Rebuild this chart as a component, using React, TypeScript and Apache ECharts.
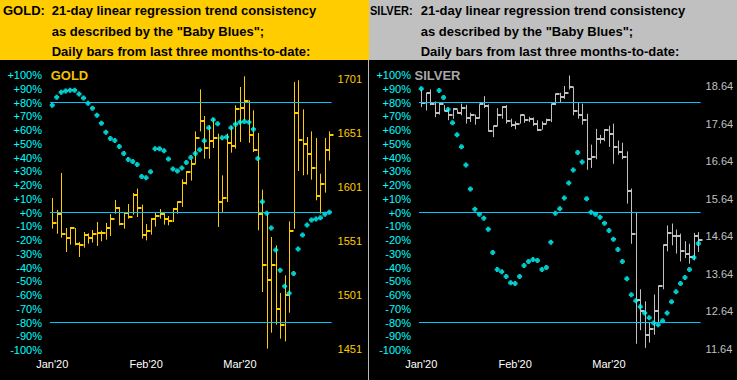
import React, { useEffect, useRef } from 'react';
import * as echarts from 'echarts';

// ---------- data ----------
const monthLabels = ["Jan'20", "Feb'20", "Mar'20"];
const monthLabelIndex = [0, 21, 42];
const goldPriceTicks = [1451, 1501, 1551, 1601, 1651, 1701];
const silverPriceTicks = [11.64, 12.64, 13.64, 14.64, 15.64, 16.64, 17.64, 18.64];
const bandLevels = [80, 0, -80];

const goldHigh = [
  1590.8, 1579.7, 1614.0, 1563.0, 1564.0, 1563.0, 1550.1, 1559.3, 1558.1, 1561.2,
  1568.6, 1560.6, 1567.7, 1576.0, 1589.0, 1582.5, 1577.9, 1585.3, 1595.4, 1599.5,
  1584.6, 1566.7, 1572.3, 1577.9, 1580.6, 1577.9, 1574.1, 1581.6, 1587.7, 1608.1,
  1615.8, 1626.6, 1652.5, 1691.4, 1666.7, 1658.1, 1664.3, 1650.4, 1611.8, 1650.4,
  1656.6, 1676.6, 1693.6, 1703.5, 1681.2, 1672.0, 1651.0, 1598.5, 1576.3, 1554.7,
  1547.0, 1502.9, 1519.2, 1569.2, 1698.2, 1699.8, 1672.9, 1647.3, 1652.5, 1646.4,
  1613.3, 1646.4, 1652.5,
];
const goldLow = [
  1562.4, 1557.8, 1554.1, 1540.8, 1547.6, 1547.0, 1536.2, 1544.8, 1548.5, 1549.5,
  1546.4, 1550.7, 1552.2, 1555.6, 1576.3, 1565.5, 1562.4, 1571.7, 1575.4, 1573.2,
  1553.2, 1551.6, 1556.9, 1564.3, 1571.7, 1566.1, 1565.5, 1568.6, 1576.3, 1582.5,
  1603.2, 1606.9, 1622.6, 1652.5, 1627.2, 1627.2, 1637.1, 1564.0, 1577.9, 1587.1,
  1632.8, 1636.5, 1642.7, 1662.7, 1642.0, 1633.4, 1560.9, 1503.8, 1451.3, 1466.1,
  1473.5, 1460.6, 1458.1, 1484.6, 1562.4, 1615.8, 1611.8, 1612.4, 1607.8, 1588.7,
  1576.3, 1595.8, 1625.4,
];
const goldClose = [
  1568.0, 1576.3, 1557.8, 1554.1, 1563.3, 1548.5, 1547.3, 1556.6, 1553.5, 1557.8,
  1558.7, 1558.7, 1562.7, 1571.7, 1581.9, 1567.0, 1576.9, 1573.2, 1593.9, 1581.9,
  1556.9, 1560.3, 1571.1, 1574.1, 1576.3, 1571.7, 1569.8, 1580.3, 1587.1, 1605.0,
  1615.2, 1622.6, 1646.7, 1662.1, 1637.1, 1643.9, 1646.4, 1587.1, 1590.8, 1642.0,
  1638.7, 1673.5, 1674.5, 1680.6, 1649.5, 1635.6, 1576.3, 1529.1, 1515.2, 1529.1,
  1488.3, 1472.9, 1501.3, 1560.3, 1669.8, 1644.2, 1640.5, 1631.2, 1618.9, 1592.4,
  1604.1, 1635.6, 1649.5,
];
const goldTrend = [
  78.0, 83.9, 87.5, 88.3, 89.0, 89.0, 86.1, 83.2, 79.5, 75.8,
  70.7, 64.9, 58.3, 53.9, 52.4, 48.0, 42.9, 38.5, 37.1, 34.9,
  26.1, 25.3, 29.7, 46.3, 46.3, 44.9, 39.0, 31.7, 30.2, 32.4,
  36.3, 40.0, 42.9, 45.6, 52.2, 61.7, 67.5, 64.6, 54.4, 54.9,
  61.7, 64.1, 65.6, 66.1, 65.6, 60.5, 39.2, 7.8, -0.5, -11.2,
  -27.3, -42.0, -53.7, -58.8, -44.4, -26.6, -16.4, -9.1, -5.4, -4.7,
  -3.9, -1.2, 0.2,
];

const silverHigh = [
  18.55, 18.46, 18.55, 18.23, 18.19, 18.13, 18.04, 18.05, 18.01, 18.17,
  18.14, 17.93, 17.88, 18.15, 18.37, 18.15, 17.58, 18.05, 18.10, 18.13,
  17.77, 17.70, 17.88, 17.86, 17.82, 17.80, 17.73, 17.70, 17.77, 18.17,
  18.44, 18.46, 18.64, 18.92, 18.61, 18.20, 18.17, 17.90, 17.08, 17.50,
  17.34, 17.49, 17.58, 17.64, 17.19, 17.13, 16.90, 15.91, 15.29, 13.23,
  12.91, 12.34, 13.09, 13.33, 14.42, 14.93, 14.98, 14.82, 14.71, 14.51,
  14.44, 14.73, 14.75,
];
const silverLow = [
  18.08, 17.99, 18.13, 17.81, 17.88, 17.97, 17.73, 17.77, 17.90, 17.86,
  17.64, 17.68, 17.61, 17.77, 18.05, 17.43, 17.28, 17.58, 17.77, 17.64,
  17.55, 17.49, 17.64, 17.66, 17.68, 17.58, 17.44, 17.48, 17.64, 17.68,
  18.13, 18.21, 18.30, 18.55, 17.86, 17.77, 17.61, 16.41, 16.46, 16.69,
  17.11, 17.17, 17.02, 16.57, 16.81, 16.69, 15.51, 14.44, 11.78, 12.14,
  11.67, 11.81, 12.02, 12.36, 13.23, 14.24, 14.40, 14.18, 13.97, 14.06,
  13.91, 14.00, 14.22,
];
const silverClose = [
  18.20, 18.46, 18.15, 17.93, 18.15, 17.98, 17.86, 18.04, 17.93, 18.05,
  17.80, 17.88, 17.80, 18.15, 18.11, 17.44, 17.57, 17.86, 18.08, 17.70,
  17.59, 17.64, 17.86, 17.73, 17.77, 17.62, 17.48, 17.62, 17.73, 18.15,
  18.44, 18.35, 18.46, 18.61, 17.97, 17.88, 17.73, 16.71, 16.75, 17.24,
  17.24, 17.46, 17.37, 17.02, 16.88, 16.75, 15.84, 14.71, 12.94, 12.64,
  12.00, 12.16, 12.64, 13.33, 14.42, 14.74, 14.65, 14.64, 14.24, 14.18,
  14.09, 14.66, 14.55,
];
const silverTrend = [
  90.0, null, null, null, 88.8, 83.6, 74.9, 65.3, 56.6, 47.8,
  34.6, 17.1, 2.4, -1.2, -4.2, -12.2, -29.1, -41.5, -43.0, -46.6,
  -51.0, -51.7, -46.6, -38.6, -35.6, -34.2, -34.9, -41.5, -40.0, -21.7,
  -0.5, 2.7, 10.5, 21.4, 31.0, 43.6, 36.8, 10.0, 0.2, -1.2,
  -3.4, -7.8, -13.0, -19.5, -26.9, -35.6, -48.1, -59.8, -64.2, -68.6,
  -73.0, -76.6, -80.3, -81.7, -78.8, -73.0, -64.9, -57.6, -51.7, -47.3,
  -41.5, -32.7, -22.5,
];

const tradingDays = goldHigh.map((_, i) => `D${i + 1}`);

// ---------- styles ----------
const FONT = '"Liberation Sans", Arial, sans-serif';
const GOLD = '#FFCC00';
const SILVER = '#C0C0C0';
const CYAN = '#00FFFF';
const BAND = '#00C8F8';

const PLOT_TOP = 75;
const PLOT_H = 275;
const GOLD_PX_PER_UNIT = 1.08;
const SILVER_PX_PER_UNIT = 37.57;

function hlcRenderer(color: string) {
  return (params: any, api: any) => {
    const i = api.value(0);
    const hi = api.coord([i, api.value(1)]);
    const lo = api.coord([i, api.value(2)]);
    const cl = api.coord([i, api.value(3)]);
    const px = Math.round(hi[0]) + 0.5;
    const cy = Math.round(cl[1]);
    return {
      type: 'group',
      children: [
        { type: 'line', shape: { x1: px, y1: hi[1], x2: px, y2: lo[1] }, style: { stroke: color, lineWidth: 1 } },
        { type: 'line', shape: { x1: px, y1: cy, x2: px + 4, y2: cy }, style: { stroke: color, lineWidth: 2 } },
      ],
    };
  };
}

const pctFmt = (v: number) => (v >= 0 ? '+' : '') + v + '%';

function buildOption() {
  const grids = [
    { left: 50, top: PLOT_TOP, width: 281.6, height: PLOT_H },
    { left: 419, top: PLOT_TOP, width: 281.6, height: PLOT_H },
  ];
  const xAxis = [0, 1].map((g) => ({
    type: 'category',
    gridIndex: g,
    data: tradingDays,
    boundaryGap: true,
    axisLine: { show: false },
    axisTick: { show: false },
    splitLine: { show: false },
    axisLabel: {
      interval: (idx: number) => monthLabelIndex.includes(idx),
      formatter: (_v: string, idx: number) => monthLabels[monthLabelIndex.indexOf(idx)] ?? '',
      color: '#FFFFFF',
      fontFamily: FONT,
      fontSize: 11,
      margin: 8,
    },
  }));
  const pctAxis = (g: number) => ({
    type: 'value',
    gridIndex: g,
    position: 'left',
    min: -100,
    max: 100,
    interval: 10,
    axisLine: { show: false },
    axisTick: { show: false },
    splitLine: { show: false },
    axisLabel: { formatter: pctFmt, color: CYAN, fontFamily: FONT, fontSize: 11, margin: 8 },
  });
  const goldMin = 1451 - 1 / GOLD_PX_PER_UNIT;
  const silverMin = 11.64 - 1 / SILVER_PX_PER_UNIT;
  const yAxis = [
    pctAxis(0),
    {
      type: 'value',
      gridIndex: 0,
      position: 'right',
      min: goldMin,
      max: goldMin + PLOT_H / GOLD_PX_PER_UNIT,
      axisLine: { show: false },
      axisTick: { show: false },
      splitLine: { show: false },
      axisLabel: {
        customValues: goldPriceTicks,
        formatter: (v: number) => String(Math.round(v)),
        color: GOLD,
        fontFamily: FONT,
        fontSize: 11,
        margin: 6,
      },
    },
    pctAxis(1),
    {
      type: 'value',
      gridIndex: 1,
      position: 'right',
      min: silverMin,
      max: silverMin + PLOT_H / SILVER_PX_PER_UNIT,
      axisLine: { show: false },
      axisTick: { show: false },
      splitLine: { show: false },
      axisLabel: {
        customValues: silverPriceTicks,
        formatter: (v: number) => v.toFixed(2),
        color: SILVER,
        fontFamily: FONT,
        fontSize: 11,
        margin: 5,
      },
    },
  ];

  const bandLine = {
    silent: true,
    symbol: 'none',
    label: { show: false },
    lineStyle: { color: BAND, width: 1, type: 'solid' },
    data: bandLevels.map((v) => ({ yAxis: v })),
  };

  const dotSymbol = 'path://M1,0H3V1H4V3H3V4H1V3H0V1H1Z';

  const series: any[] = [
    { type: 'line', xAxisIndex: 0, yAxisIndex: 0, data: [], markLine: bandLine },
    { type: 'line', xAxisIndex: 1, yAxisIndex: 2, data: [], markLine: bandLine },
    {
      type: 'custom',
      xAxisIndex: 0,
      yAxisIndex: 1,
      renderItem: hlcRenderer(GOLD),
      encode: { x: 0, y: [1, 2, 3] },
      data: goldHigh.map((h, i) => [i, h, goldLow[i], goldClose[i]]),
    },
    {
      type: 'custom',
      xAxisIndex: 1,
      yAxisIndex: 3,
      renderItem: hlcRenderer(SILVER),
      encode: { x: 0, y: [1, 2, 3] },
      data: silverHigh.map((h, i) => [i, h, silverLow[i], silverClose[i]]),
    },
    {
      type: 'scatter',
      xAxisIndex: 0,
      yAxisIndex: 0,
      symbol: dotSymbol,
      symbolSize: 5,
      itemStyle: { color: CYAN },
      data: goldTrend.map((v, i) => [i, v]),
    },
    {
      type: 'scatter',
      xAxisIndex: 1,
      yAxisIndex: 2,
      symbol: dotSymbol,
      symbolSize: 5,
      itemStyle: { color: CYAN },
      data: silverTrend.map((v, i) => (v === null ? [i, '-'] : [i, v])),
    },
  ];

  const hdrFont = `bold 13px ${FONT}`;
  const hText = (text: string, x: number, y: number, scaleX = 1) => ({
    type: 'text',
    x,
    y,
    scaleX,
    style: {
      text,
      font: hdrFont,
      fill: '#000000',
      align: 'left',
      verticalAlign: 'middle',
      textAlign: 'left',
      textVerticalAlign: 'middle',
    },
  });
  const titleText = (text: string, x: number, color: string) => ({
    type: 'text',
    x,
    y: 75.7,
    style: {
      text,
      font: `bold 13px ${FONT}`,
      fill: color,
      align: 'left',
      verticalAlign: 'middle',
      textAlign: 'left',
      textVerticalAlign: 'middle',
    },
  });

  const graphic = [
    { type: 'rect', shape: { x: 0, y: 0, width: 369, height: 60 }, style: { fill: GOLD } },
    { type: 'rect', shape: { x: 369, y: 0, width: 368, height: 60 }, style: { fill: '#C0C0C0' } },
    { type: 'rect', shape: { x: 368, y: 60, width: 1, height: 320 }, style: { fill: '#B8B8B8' } },
    hText('GOLD:', 3, 10.7),
    hText('21-day linear regression trend consistency', 51.7, 10.7),
    hText('as described by the "Baby Blues";', 51.7, 31),
    hText('Daily bars from last three months-to-date:', 51.7, 51.7),
    hText('SILVER:', 370, 10.7, 0.85),
    hText('21-day linear regression trend consistency', 420.7, 10.7),
    hText('as described by the "Baby Blues";', 420.7, 31),
    hText('Daily bars from last three months-to-date:', 420.7, 51.7),
    titleText('GOLD', 50.7, '#F2C200'),
    titleText('SILVER', 414.5, '#A8A8A8'),
  ];

  return {
    animation: false,
    backgroundColor: '#000000',
    textStyle: { fontFamily: FONT },
    grid: grids,
    xAxis,
    yAxis,
    series,
    graphic,
  };
}

export default function App() {
  const ref = useRef<HTMLDivElement>(null);
  useEffect(() => {
    if (!ref.current) return;
    const chart = echarts.init(ref.current, undefined, { renderer: 'svg' });
    chart.setOption(buildOption() as any);
    return () => chart.dispose();
  }, []);
  return (
    <div
      ref={ref}
      style={{ position: 'absolute', left: 0, top: 0, width: 737, height: 380 }}
    />
  );
}
